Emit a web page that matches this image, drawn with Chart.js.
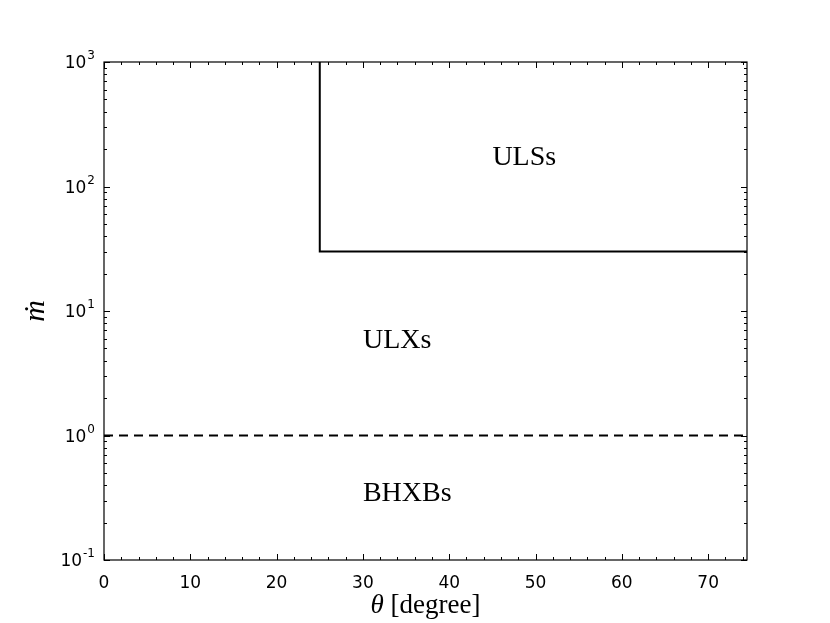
<!DOCTYPE html>
<html>
<head>
<meta charset="utf-8">
<script src="https://cdn.jsdelivr.net/npm/chart.js@4/dist/chart.umd.min.js"></script>
<style>
  body { margin: 0; background: #fff; }
  canvas { display: block; }
</style>
</head>
<body>
<canvas id="regimeChart" width="830" height="623"></canvas>
<script>
// limites del diagrama
const thetaMax = 74.5;
const mdotMin = 0.1;
const mdotMax = 1000;

// linea solida (region ULS)
const boxTheta = [25, 25, thetaMax];
const boxMdot = [1000, 30, 30];

// linea discontinua mdot = 1
const eddTheta = [0, thetaMax];
const eddMdot = [1, 1];

// etiquetas de las regiones
const regionNames = ['ULSs', 'ULXs', 'BHXBs'];
const regionTheta = [45, 30, 30];
const regionMdot = [150, 5, 0.3];

// ticks
const xMajor = [0, 10, 20, 30, 40, 50, 60, 70];
const xMinor = [2, 4, 6, 8, 12, 14, 16, 18, 22, 24, 26, 28, 32, 34, 36, 38, 42, 44, 46, 48,
                52, 54, 56, 58, 62, 64, 66, 68, 72, 74];
const yMajor = [0.1, 1, 10, 100, 1000];
const yExponents = ['-1', '0', '1', '2', '3'];
const yMinor = [];
for (const d of [0.1, 1, 10, 100]) {
    for (let k = 2; k <= 9; k++) yMinor.push(+(k * d).toPrecision(3));
}

const toPoints = (xs, ys) => xs.map((x, i) => ({ x: x, y: ys[i] }));

// Marco, ticks hacia dentro en los cuatro lados y etiquetas 10^n (estilo matplotlib)
const framePlugin = {
    id: 'frame',
    afterDraw(chart) {
        const { ctx, chartArea: a, scales } = chart;
        const xs = scales.x, ys = scales.y;
        ctx.save();
        ctx.strokeStyle = '#000';
        ctx.lineWidth = 1;
        const tick = (px, len, vertical) => {
            ctx.beginPath();
            if (vertical) {
                ctx.moveTo(px, a.bottom); ctx.lineTo(px, a.bottom - len);
                ctx.moveTo(px, a.top); ctx.lineTo(px, a.top + len);
            } else {
                ctx.moveTo(a.left, px); ctx.lineTo(a.left + len, px);
                ctx.moveTo(a.right, px); ctx.lineTo(a.right - len, px);
            }
            ctx.stroke();
        };
        xMajor.forEach(v => tick(Math.round(xs.getPixelForValue(v)) + 0.5, 6, true));
        xMinor.forEach(v => tick(Math.round(xs.getPixelForValue(v)) + 0.5, 3, true));
        yMajor.forEach(v => tick(Math.round(ys.getPixelForValue(v)) + 0.5, 6, false));
        yMinor.forEach(v => tick(Math.round(ys.getPixelForValue(v)) + 0.5, 3, false));
        ctx.lineWidth = 1.2;
        ctx.strokeRect(a.left, a.top, a.right - a.left, a.bottom - a.top);

        // etiquetas del eje y: "10" con exponente
        ctx.fillStyle = '#000';
        ctx.textBaseline = 'alphabetic';
        ctx.textAlign = 'left';
        const baseFont = '17px "DejaVu Sans"';
        const supFont = '12px "DejaVu Sans"';
        yMajor.forEach((v, i) => {
            const py = ys.getPixelForValue(v);
            const exp = yExponents[i];
            ctx.font = supFont;
            const wSup = ctx.measureText(exp).width;
            ctx.font = baseFont;
            const wBase = ctx.measureText('10').width;
            const right = a.left - 9;
            const x0 = right - wSup - wBase - 1;
            ctx.fillText('10', x0, py + 6);
            ctx.font = supFont;
            ctx.fillText(exp, x0 + wBase + 1, py - 3);
        });

        // titulo del eje x con theta en cursiva
        const serif = '"Liberation Serif", serif';
        ctx.font = 'italic 27px ' + serif;
        const wTheta = ctx.measureText('θ').width;
        ctx.font = '27px ' + serif;
        const rest = ' [degree]';
        const wRest = ctx.measureText(rest).width;
        const cx = (a.left + a.right) / 2;
        const x1 = cx - (wTheta + wRest) / 2;
        ctx.font = 'italic 27px ' + serif;
        ctx.fillText('θ', x1, 613);
        ctx.font = '27px ' + serif;
        ctx.fillText(rest, x1 + wTheta, 613);
        ctx.restore();
    },
    afterDatasetsDraw(chart) {
        const { ctx, scales } = chart;
        ctx.save();
        ctx.fillStyle = '#000';
        ctx.font = '28px "Liberation Serif", serif';
        ctx.textAlign = 'left';
        ctx.textBaseline = 'alphabetic';
        regionNames.forEach((name, i) => {
            ctx.fillText(name, scales.x.getPixelForValue(regionTheta[i]),
                scales.y.getPixelForValue(regionMdot[i]));
        });
        ctx.restore();
    }
};

const commonDatasetConfig = {
    borderColor: '#000',
    borderWidth: 2,
    pointRadius: 0,
    pointHoverRadius: 0,
    showLine: true,
    fill: false,
    tension: 0
};

new Chart(document.getElementById('regimeChart').getContext('2d'), {
    type: 'scatter',
    data: {
        datasets: [
            {
                label: 'ULS',
                data: toPoints(boxTheta, boxMdot),
                ...commonDatasetConfig
            },
            {
                label: 'Eddington',
                data: toPoints(eddTheta, eddMdot),
                borderDash: [9, 6],
                ...commonDatasetConfig
            }
        ]
    },
    options: {
        responsive: false,
        animation: false,
        layout: {
            padding: { top: 62, right: 83, left: 0, bottom: 0 }
        },
        plugins: {
            legend: { display: false },
            tooltip: { enabled: false }
        },
        scales: {
            x: {
                type: 'linear',
                min: 0,
                max: thetaMax,
                grid: { display: false },
                border: { display: false },
                afterBuildTicks: s => { s.ticks = xMajor.map(v => ({ value: v })); },
                afterFit: s => { s.height = 63; },
                ticks: {
                    color: '#000',
                    padding: 5,
                    maxRotation: 0,
                    font: { family: '"DejaVu Sans"', size: 17 }
                },
                title: { display: false }
            },
            y: {
                type: 'logarithmic',
                min: mdotMin,
                max: mdotMax,
                grid: { display: false },
                border: { display: false },
                afterBuildTicks: s => { s.ticks = yMajor.map(v => ({ value: v })); },
                afterFit: s => { s.width = 104; },
                ticks: { display: false },
                title: {
                    display: true,
                    text: 'ṁ',
                    color: '#000',
                    padding: { top: 18, bottom: 0 },
                    font: { family: '"Liberation Serif", "DejaVu Serif", serif', size: 30, style: 'italic' }
                }
            }
        }
    },
    plugins: [framePlugin]
});
</script>
</body>
</html>
